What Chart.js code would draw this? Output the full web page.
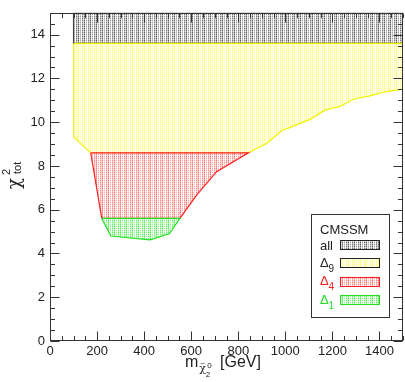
<!DOCTYPE html>
<html>
<head>
<meta charset="utf-8">
<script src="https://cdn.jsdelivr.net/npm/chart.js@4.4.1/dist/chart.umd.min.js"></script>
<style>
html, body { margin: 0; padding: 0; background: #fff; }
</style>
</head>
<body>
<canvas id="canvas" width="405" height="382"></canvas>
<script>
// region boundaries, m(chi2^0) in GeV vs chi2_tot
var allM = [100, 100, 1500, 1500];
var allChi = [15, 13.6, 13.6, 15];
var d9M = [101, 101, 173, 843, 871, 921, 985, 1013, 1105, 1168, 1232, 1292, 1360, 1424, 1487, 1500, 1500];
var d9Chi = [13.6, 9.32, 8.6, 8.6, 8.76, 9.03, 9.62, 9.73, 10.13, 10.55, 10.72, 11.06, 11.2, 11.39, 11.49, 11.5, 13.6];
var d4M = [173, 220, 552, 623, 708, 843];
var d4Chi = [8.6, 5.6, 5.6, 6.67, 7.74, 8.6];
var d1M = [220, 259, 425, 507, 552];
var d1Chi = [5.6, 4.8, 4.62, 4.9, 5.6];

var xTicks = [0, 200, 400, 600, 800, 1000, 1200, 1400];
var yTicks = [0, 2, 4, 6, 8, 10, 12, 14];
var bandNames = ['all', 'Δ9', 'Δ4', 'Δ1'];

var FONT = '"Liberation Sans", Arial, Helvetica, sans-serif';

function pts(xs, ys) {
	var out = [];
	for (var i = 0; i < xs.length; i++) out.push({x: xs[i], y: ys[i]});
	out.push({x: xs[0], y: ys[0]});
	return out;
}

// little hatched texture like the original plot
function hatch(full, strength) {
	var c = document.createElement('canvas');
	c.width = 6; c.height = 4;
	var g = c.getContext('2d');
	var cols = [1.0, 0.1, 0.55, 0.0, 0.8, 0.3];
	for (var r = 0; r < 4; r++) {
		for (var k = 0; k < 6; k++) {
			var i = cols[k] * (r % 2 ? 0.5 : 1) * strength;
			var R = Math.round(255 + (full[0] - 255) * i);
			var G = Math.round(255 + (full[1] - 255) * i);
			var B = Math.round(255 + (full[2] - 255) * i);
			g.fillStyle = 'rgb(' + R + ',' + G + ',' + B + ')';
			g.fillRect(k, r, 1, 1);
		}
	}
	return g.createPattern(c, 'repeat');
}

var fills = [hatch([70, 70, 70], 0.9), hatch([250, 250, 0], 0.6), hatch([255, 60, 60], 0.75), hatch([30, 230, 30], 0.8)];
var edges = ['#444444', '#f0f000', '#ff2020', '#20dd20'];
var textCols = ['#222222', '#222222', '#ff2020', '#20dd20'];

var framePlugin = {
	id: 'frame',
	afterDraw: function(chart) {
		var ctx = chart.ctx;
		var a = chart.chartArea;
		var xs = chart.scales.x, ys = chart.scales.y;
		ctx.save();
		ctx.strokeStyle = '#333';
		ctx.lineWidth = 1;
		var L = Math.round(a.left) + 0.5, R = Math.round(a.right) - 0.5;
		var T = Math.round(a.top) + 0.5, B = Math.round(a.bottom) - 0.5;
		ctx.strokeRect(L, T, R - L, B - T);

		ctx.beginPath();
		for (var v = 0; v <= 1500; v += 50) {
			var len = (v % 200 === 0) ? 9 : 4.5;
			var px = Math.round(xs.getPixelForValue(v)) + 0.5;
			ctx.moveTo(px, B); ctx.lineTo(px, B - len);
			ctx.moveTo(px, T); ctx.lineTo(px, T + len);
		}
		for (var w = 0; w <= 15; w += 0.5) {
			var len2 = (w % 2 === 0) ? 9 : 4.5;
			var py = Math.round(ys.getPixelForValue(w)) + 0.5;
			ctx.moveTo(L, py); ctx.lineTo(L + len2, py);
			ctx.moveTo(R, py); ctx.lineTo(R - len2, py);
		}
		ctx.stroke();

		// legend box
		ctx.fillStyle = '#fff';
		ctx.fillRect(311.5, 214.5, 78, 103);
		ctx.strokeRect(311.5, 214.5, 78, 103);
		ctx.fillStyle = '#222';
		ctx.font = '13px ' + FONT;
		ctx.textBaseline = 'alphabetic';
		ctx.textAlign = 'left';
		ctx.fillText('CMSSM', 320, 233.5);
		for (var i = 0; i < bandNames.length; i++) {
			var sy = 240 + i * 18.4;
			ctx.fillStyle = fills[i];
			ctx.fillRect(340, sy, 39, 9.5);
			ctx.strokeStyle = i < 2 ? '#222' : edges[i];
			ctx.strokeRect(340.5, Math.round(sy) + 0.5, 39, 9);
			ctx.fillStyle = textCols[i];
			var base = sy + 9.5;
			if (i === 0) {
				ctx.font = '13px ' + FONT;
				ctx.fillText('all', 320, base);
			} else {
				ctx.font = '13px ' + FONT;
				ctx.fillText('Δ', 320, base - 1);
				ctx.font = '10px ' + FONT;
				ctx.fillText(bandNames[i].slice(1), 328.5, base + 4);
			}
		}

		// x title
		ctx.fillStyle = '#222';
		var cx = (a.left + a.right) / 2;
		ctx.font = '16px ' + FONT;
		var mW = ctx.measureText('m').width;
		var x0 = cx - 41.5;
		ctx.fillText('m', x0, 367);
		ctx.font = '11px "DejaVu Serif", serif';
		ctx.fillText('χ', x0 + mW + 1, 372);
		ctx.font = '8px ' + FONT;
		ctx.fillText('~', x0 + mW + 2, 366);
		ctx.fillText('0', x0 + mW + 9, 368);
		ctx.fillText('2', x0 + mW + 7.5, 377);
		ctx.font = '16px ' + FONT;
		ctx.fillText('[GeV]', cx - 6.5, 367);

		// y title, rotated
		ctx.save();
		ctx.translate(20, 189);
		ctx.rotate(-Math.PI / 2);
		ctx.font = '18px "DejaVu Serif", serif';
		ctx.fillText('χ', 0, 0);
		ctx.font = '11px ' + FONT;
		ctx.fillText('2', 14, -10);
		ctx.fillText('tot', 15, 1);
		ctx.restore();

		ctx.restore();
	}
};

function fitX(s) { s.height = 41; }
function fitY(s) { s.width = 50; }

var ctx = document.getElementById('canvas').getContext('2d');
var chart = new Chart(ctx, {
	type: 'scatter',
	data: {
		datasets: [
			{ label: 'Δ1', data: pts(d1M, d1Chi), backgroundColor: fills[3], borderColor: edges[3] },
			{ label: 'Δ4', data: pts(d4M, d4Chi), backgroundColor: fills[2], borderColor: edges[2] },
			{ label: 'Δ9', data: pts(d9M, d9Chi), backgroundColor: fills[1], borderColor: edges[1] },
			{ label: 'all', data: pts(allM, allChi), backgroundColor: fills[0], borderColor: edges[0] }
		]
	},
	options: {
		responsive: false,
		animation: false,
		devicePixelRatio: 1,
		datasets: {
			scatter: { showLine: true, fill: 'shape', borderWidth: 1.2, pointRadius: 0, tension: 0 }
		},
		layout: { padding: { top: 2, right: 2, left: 0, bottom: 0 } },
		plugins: { legend: { display: false }, tooltip: { enabled: false } },
		scales: {
			x: {
				type: 'linear', min: 0, max: 1500,
				grid: { display: false, drawTicks: false },
				border: { display: false },
				ticks: { padding: 3, color: '#222', font: { family: FONT, size: 13 }, maxRotation: 0,
					callback: function(v) { return String(v); } },
				afterBuildTicks: function(s) { s.ticks = xTicks.map(function(v) { return {value: v}; }); },
				afterFit: fitX
			},
			y: {
				type: 'linear', min: 0, max: 15,
				grid: { display: false, drawTicks: false },
				border: { display: false },
				ticks: { padding: 5, color: '#222', font: { family: FONT, size: 13 },
					callback: function(v) { return String(v); } },
				afterBuildTicks: function(s) { s.ticks = yTicks.map(function(v) { return {value: v}; }); },
				afterFit: fitY
			}
		}
	},
	plugins: [framePlugin]
});
</script>
</body>
</html>
